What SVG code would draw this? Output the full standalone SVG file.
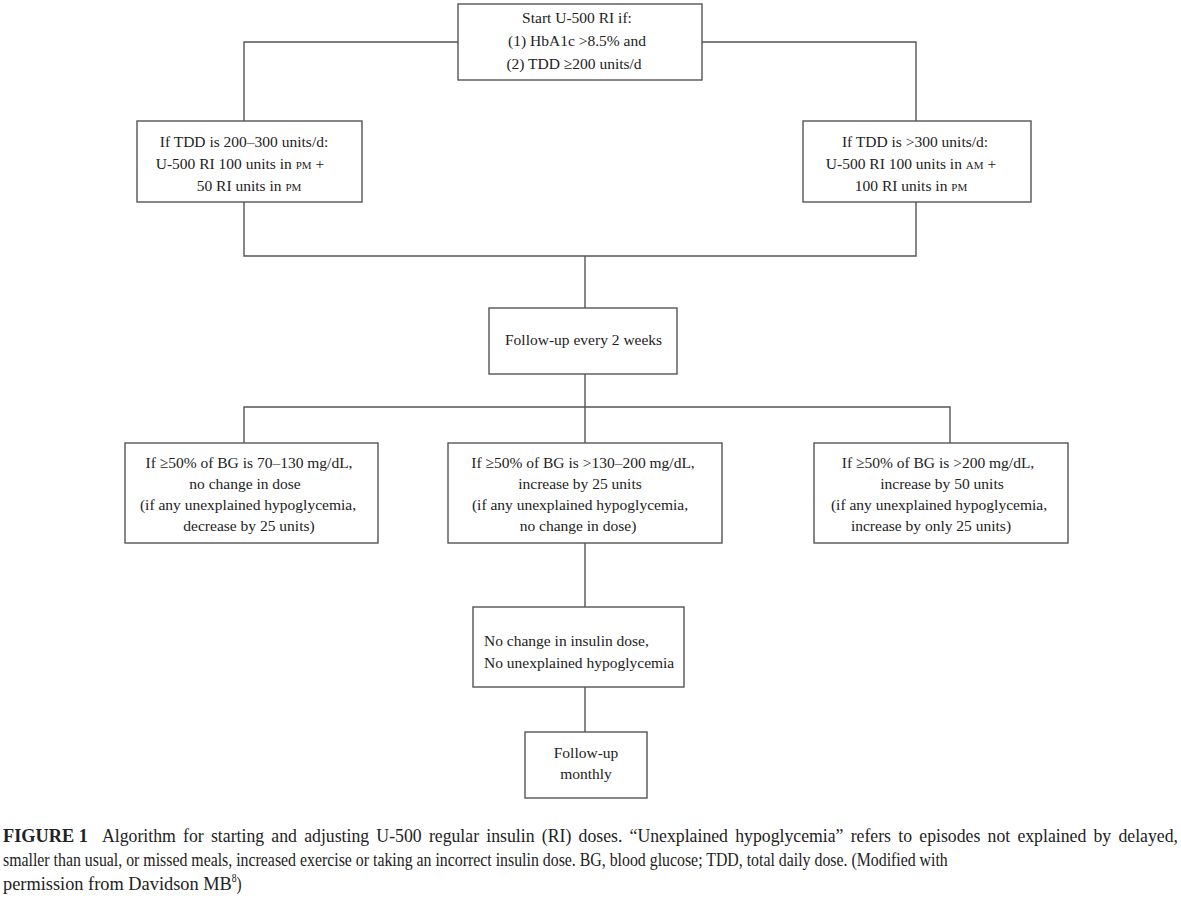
<svg xmlns="http://www.w3.org/2000/svg" width="1181" height="902" viewBox="0 0 1181 902">
<style>
.box{fill:#fff;stroke:#555;stroke-width:1.4}
.t{font-family:"Liberation Serif","Times New Roman",serif;font-size:15.5px;fill:#222}
.c{text-anchor:middle}
.sc{font-size:11px}
.conn{fill:none;stroke:#555;stroke-width:1.4}
.cap{font-family:"Liberation Serif","Times New Roman",serif;font-size:19px;fill:#222}
</style>
<rect width="1181" height="902" fill="#fff"/>
<g id="connectors" class="conn">
<path d="M458 42H244V121"/>
<path d="M702 42H916V121"/>
<path d="M244 202V256H916V202"/>
<path d="M585 256V308"/>
<path d="M585 374V443"/>
<path d="M244 443V407H950V443"/>
<path d="M585 543V607"/>
<path d="M585 687V732"/>
</g>
<g id="start">
<rect class="box" x="458" y="4" width="244" height="76"/>
<text class="t c" x="577" y="23">Start U-500 RI if:</text>
<text class="t c" x="577" y="46">(1) HbA1c &gt;8.5% and</text>
<text class="t c" x="574" y="69">(2) TDD ≥200 units/d</text>
</g>
<g id="tdd-low">
<rect class="box" x="137" y="121" width="225" height="81"/>
<text class="t c" x="244" y="147">If TDD is 200–300 units/d:</text>
<text class="t c" x="240" y="169">U-500 RI 100 units in <tspan class="sc">PM</tspan> +</text>
<text class="t c" x="249" y="191">50 RI units in <tspan class="sc">PM</tspan></text>
</g>
<g id="tdd-high">
<rect class="box" x="803" y="121" width="228" height="81"/>
<text class="t c" x="915" y="147">If TDD is &gt;300 units/d:</text>
<text class="t c" x="911" y="169">U-500 RI 100 units in <tspan class="sc">AM</tspan> +</text>
<text class="t c" x="911" y="191">100 RI units in <tspan class="sc">PM</tspan></text>
</g>
<g id="followup2w">
<rect class="box" x="489" y="308" width="188" height="66"/>
<text class="t" x="505" y="345">Follow-up every 2 weeks</text>
</g>
<g id="bg-normal">
<rect class="box" x="125" y="443" width="253" height="100"/>
<text class="t c" x="249" y="468">If ≥50% of BG is 70–130 mg/dL,</text>
<text class="t c" x="245" y="489">no change in dose</text>
<text class="t c" x="248" y="510">(if any unexplained hypoglycemia,</text>
<text class="t c" x="249" y="531">decrease by 25 units)</text>
</g>
<g id="bg-mid">
<rect class="box" x="448" y="443" width="274" height="100"/>
<text class="t c" x="583" y="468">If ≥50% of BG is &gt;130–200 mg/dL,</text>
<text class="t c" x="580" y="489">increase by 25 units</text>
<text class="t c" x="580" y="510">(if any unexplained hypoglycemia,</text>
<text class="t c" x="578" y="531">no change in dose)</text>
</g>
<g id="bg-high">
<rect class="box" x="814" y="443" width="254" height="100"/>
<text class="t c" x="938" y="468">If ≥50% of BG is &gt;200 mg/dL,</text>
<text class="t c" x="942" y="489">increase by 50 units</text>
<text class="t c" x="939" y="510">(if any unexplained hypoglycemia,</text>
<text class="t c" x="931" y="531">increase by only 25 units)</text>
</g>
<g id="stable">
<rect class="box" x="473" y="607" width="211" height="80"/>
<text class="t" x="484" y="646">No change in insulin dose,</text>
<text class="t" x="484" y="668">No unexplained hypoglycemia</text>
</g>
<g id="monthly">
<rect class="box" x="525" y="732" width="122" height="66"/>
<text class="t c" x="586" y="758">Follow-up</text>
<text class="t c" x="586" y="779">monthly</text>
</g>
<g id="caption" transform="scale(0.8,1)">
<text class="cap" x="3.75" y="842" font-weight="bold" textLength="106" lengthAdjust="spacingAndGlyphs">FIGURE 1</text>
<text class="cap" x="127.5" y="842" word-spacing="3" textLength="1345" lengthAdjust="spacingAndGlyphs">Algorithm for starting and adjusting U-500 regular insulin (RI) doses. “Unexplained hypoglycemia” refers to episodes not explained by delayed,</text>
<text class="cap" x="3.75" y="866" textLength="1181" lengthAdjust="spacingAndGlyphs">smaller than usual, or missed meals, increased exercise or taking an incorrect insulin dose. BG, blood glucose; TDD, total daily dose. (Modified with</text>
<text class="cap" x="3.75" y="890"><tspan textLength="286" lengthAdjust="spacingAndGlyphs">permission from Davidson MB</tspan><tspan font-size="12" dy="-8">8</tspan><tspan dy="8">)</tspan></text>
</g>
</svg>
